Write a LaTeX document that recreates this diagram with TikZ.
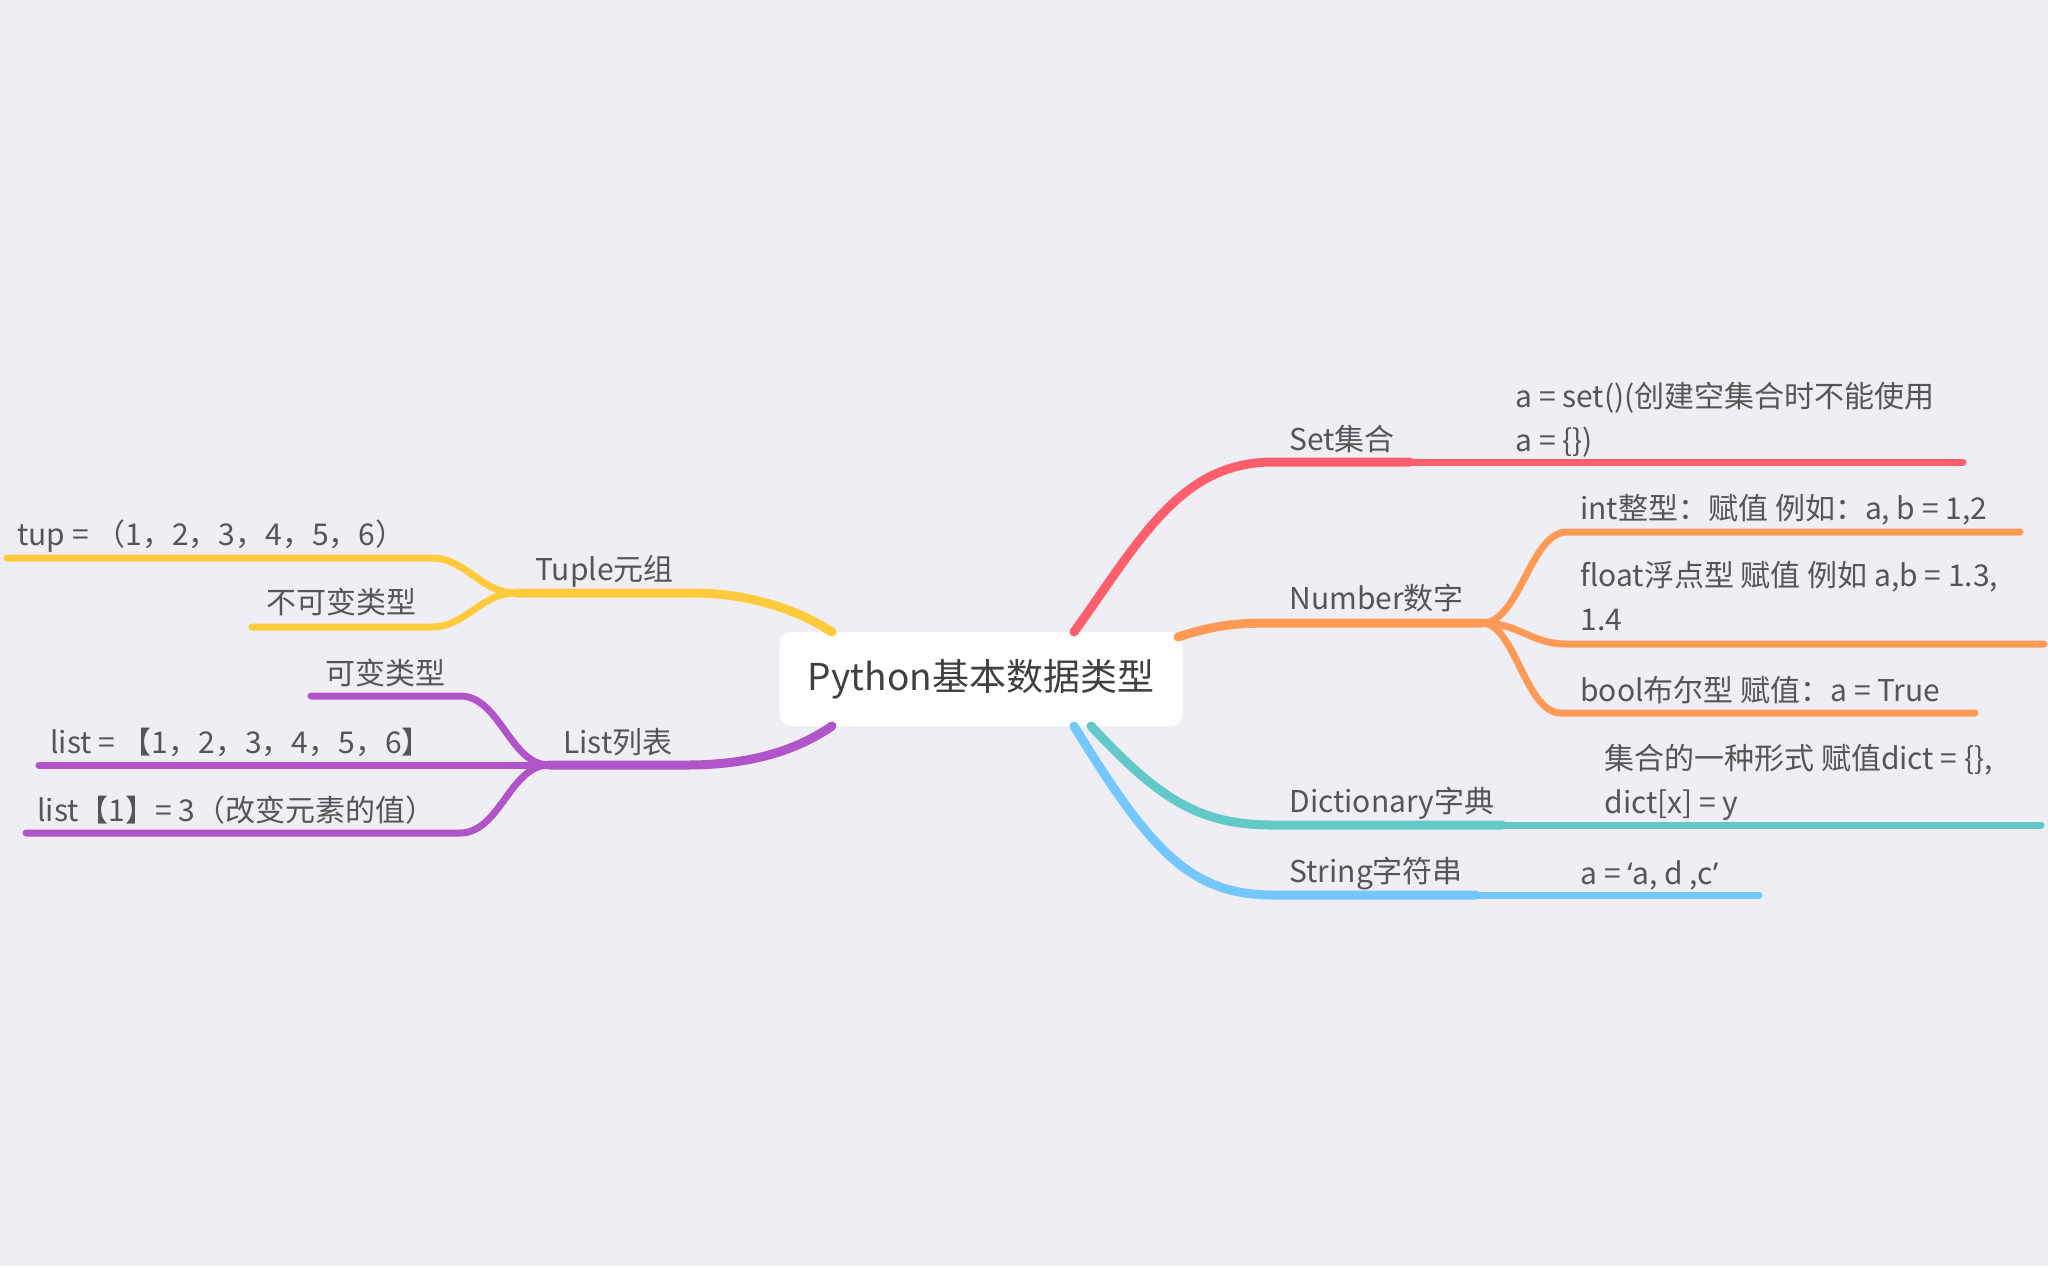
\documentclass[tikz,border=0pt]{standalone}
\usepackage{fontspec}
\setmainfont{Noto Sans CJK SC}
\newfontfamily\latinfont{Noto Sans}
\definecolor{bgc}{HTML}{EFEEF4}
\definecolor{txt}{HTML}{555555}
\definecolor{setc}{HTML}{FF5E6C}
\definecolor{numc}{HTML}{FF9A56}
\definecolor{dicc}{HTML}{62C8C8}
\definecolor{strc}{HTML}{74C6FF}
\definecolor{tupc}{HTML}{FFCB3D}
\definecolor{lstc}{HTML}{B153C9}
\begin{document}
\begin{tikzpicture}[x=.5pt,y=-.5pt,
	topic/.style={anchor=base west,inner sep=0,text=txt,font=\fontsize{15}{22}\selectfont,align=left},
	mainline/.style={line width=4.5pt,line cap=round},
	subline/.style={line width=3.5pt,line cap=round}]
		\fill[bgc] (0,0) rectangle (2048,1266);
		\useasboundingbox (0,0) rectangle (2048,1266);

		\node[fill=white,rounded corners=6pt,minimum width=201.5pt,minimum height=47pt,text=black!75,font=\fontsize{18.5}{22}\selectfont] (root) at (981,679){Python基本数据类型};

		\coordinate (setA) at (1074,632);
		\coordinate (setB) at (1273,462);
		\coordinate (setC) at (1410,462);
		\coordinate (setD) at (1963,462);
		\draw[mainline,setc] (setA) .. controls (1140,540) and (1180,462) .. (setB)--(setC);
		\draw[subline,setc] (setC)--(setD);
		\node[topic] (set) at (1289,450){Set集合};
		\node[topic] (setval) at (1515,451){a = set()(创建空集合时不能使用\\a = \{\})};

		\coordinate (numA) at (1178,637);
		\coordinate (numB) at (1273,623);
		\coordinate (numJ) at (1482,623);
		\draw[mainline,numc] (numA) .. controls (1215,625) and (1235,623) .. (numB)--(numJ);
		\node[topic] (num) at (1289,609){Number数字};
		\coordinate (intA) at (1567,532);
		\coordinate (intB) at (2020,532);
		\draw[subline,numc] (numJ) .. controls (1520,623) and (1530,532) .. (intA)--(intB);
		\node[topic] (int) at (1580,519){int整型：赋值 例如：a, b = 1,2};
		\coordinate (fltA) at (1567,644);
		\coordinate (fltB) at (2044,644);
		\draw[subline,numc] (numJ) .. controls (1520,623) and (1530,644) .. (fltA)--(fltB);
		\node[topic] (flt) at (1580,630){float浮点型 赋值 例如 a,b = 1.3,\\1.4};
		\coordinate (bolA) at (1561,713);
		\coordinate (bolB) at (1975,713);
		\draw[subline,numc] (numJ) .. controls (1515,623) and (1525,713) .. (bolA)--(bolB);
		\node[topic] (bol) at (1580,701){bool布尔型 赋值：a = True};

		\coordinate (dicA) at (1091,726);
		\coordinate (dicB) at (1273,825);
		\coordinate (dicC) at (1502,825);
		\coordinate (dicD) at (2041,825);
		\draw[mainline,dicc] (dicA) .. controls (1160,800) and (1200,825) .. (dicB)--(dicC);
		\draw[subline,dicc] (dicC)--(dicD);
		\node[topic] (dic) at (1289,812){Dictionary字典};
		\node[topic] (dicval) at (1604,813){集合的一种形式 赋值dict = \{\},\\dict[x] = y};

		\coordinate (strA) at (1074,726);
		\coordinate (strB) at (1273,895);
		\coordinate (strC) at (1476,895);
		\coordinate (strD) at (1759,895);
		\draw[mainline,strc] (strA) .. controls (1150,850) and (1190,895) .. (strB)--(strC);
		\draw[subline,strc] (strC)--(strD);
		\node[topic] (str) at (1289,882){String字符串};
		\node[topic] (strval) at (1580,884){a = {\latinfont ‘}a, d ,c{\latinfont ’}};

		\coordinate (tupA) at (832,632);
		\coordinate (tupB) at (692,593);
		\coordinate (tupJ) at (516,593);
		\draw[mainline,tupc] (tupA) .. controls (790,605) and (740,593) .. (tupB)--(tupJ);
		\node[topic] (tup) at (535,580){Tuple元组};
		\coordinate (tpcA) at (431,558);
		\coordinate (tpcB) at (7,558);
		\draw[subline,tupc] (tupJ) .. controls (480,593) and (467,558) .. (tpcA)--(tpcB);
		\node[topic] (tpc) at (17,545){tup = （1，2，3，4，5，6）};
		\coordinate (immA) at (431,627);
		\coordinate (immB) at (252,627);
		\draw[subline,tupc] (tupJ) .. controls (480,593) and (467,627) .. (immA)--(immB);
		\node[topic] (imm) at (266,613){不可变类型};

		\coordinate (lstA) at (832,726);
		\coordinate (lstB) at (686,765);
		\coordinate (lstJ) at (549,765);
		\draw[mainline,lstc] (lstA) .. controls (790,755) and (740,765) .. (lstB)--(lstJ);
		\node[topic] (lst) at (563,753){List列表};
		\coordinate (mutA) at (460,696);
		\coordinate (mutB) at (311,696);
		\draw[subline,lstc] (lstJ) .. controls (510,765) and (500,696) .. (mutA)--(mutB);
		\node[topic] (mut) at (325,684){可变类型};
		\coordinate (lsvB) at (39,765);
		\draw[subline,lstc] (lstJ)--(lsvB);
		\node[topic] (lsv) at (50,753){list = 【1，2，3，4，5，6】};
		\coordinate (lsiA) at (460,833);
		\coordinate (lsiB) at (26,833);
		\draw[subline,lstc] (lstJ) .. controls (510,765) and (500,833) .. (lsiA)--(lsiB);
		\node[topic] (lsi) at (37,821){list【1】= 3（改变元素的值）};
	\end{tikzpicture}
\end{document}
